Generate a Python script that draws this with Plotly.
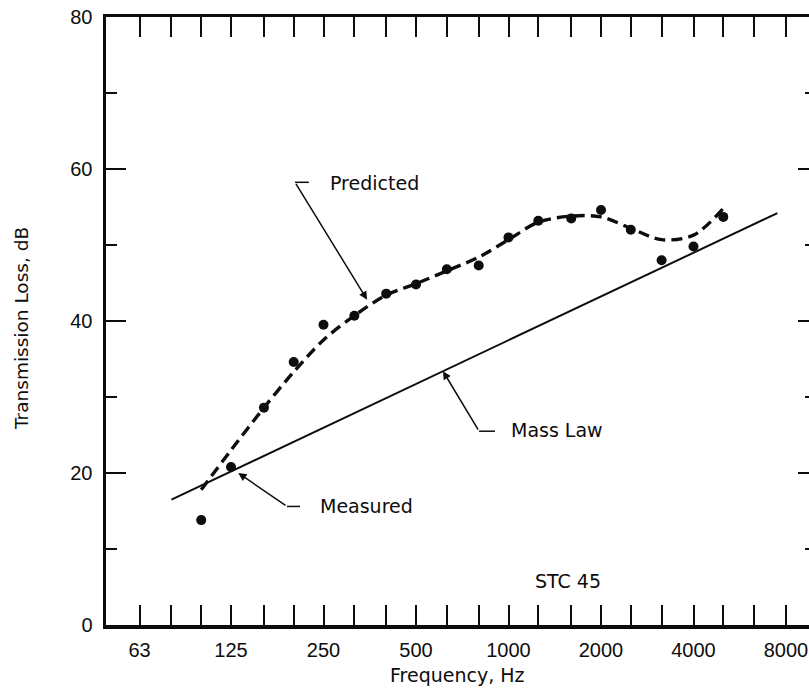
import numpy as np
import plotly.graph_objects as go

# ---- data ----
meas_freq = [100, 125, 160, 200, 250, 315, 400, 500, 630, 800, 1000, 1250, 1600, 2000, 2500, 3150, 4000, 5000]
meas_tl = [13.8, 20.8, 28.6, 34.6, 39.5, 40.7, 43.6, 44.8, 46.8, 47.3, 51.0, 53.2, 53.5, 54.6, 52.0, 48.0, 49.8, 53.7]

pred_freq = [100, 125, 160, 200, 250, 315, 400, 500, 630, 800, 1000, 1250, 1600, 2000, 2500, 3150, 4000, 5000]
pred_tl = [17.8, 23.0, 28.6, 33.3, 37.5, 40.7, 43.4, 44.9, 46.6, 48.4, 50.7, 53.0, 53.8, 53.7, 52.2, 50.7, 51.3, 54.8]

mass_freq = [80, 7500]
mass_tl = [16.5, 54.2]

x_tickvals = [63, 125, 250, 500, 1000, 2000, 4000, 8000]
x_ticktext = ["63", "125", "250", "500", "1000", "2000", "4000", "8000"]
x_minor = [80, 100, 160, 200, 315, 400, 630, 800, 1250, 1600, 2500, 3150, 5000, 6300]
y_tickvals = [0, 20, 40, 60, 80]
y_minor = [10, 30, 50, 70]

FONT = "DejaVu Sans"
TICKFONT = "Liberation Sans"
INK = "#0d0d0d"

W, H = 809, 691
L, R, T, B = 106, 0, 17, 66
PW, PH = W - L - R, H - T - B

fig = go.Figure()

fig.add_trace(go.Scatter(x=mass_freq, y=mass_tl, mode="lines",
                         line=dict(color=INK, width=2), yaxis="y2", hoverinfo="skip"))
fig.add_trace(go.Scatter(x=pred_freq, y=pred_tl, mode="lines",
                         line=dict(color=INK, width=3.4, dash="11px,6px", shape="spline", smoothing=0.9),
                         hoverinfo="skip"))
fig.add_trace(go.Scatter(x=meas_freq, y=meas_tl, mode="markers",
                         marker=dict(color=INK, size=10), hoverinfo="skip"))

# leader lines: horizontal segment (text side -> bend), then arrow bend -> tip
leaders = [
    dict(label="Predicted", text_at=(258.6, 58.2), seg=([224, 202], [58.25, 58.25]), tip=(346.6, 42.8)),
    dict(label="Measured", text_at=(240.5, 15.6), seg=([209.6, 190.2], [15.6, 15.6]), tip=(132, 20.0)),
    dict(label="Mass Law", text_at=(1000, 25.6), seg=([904, 802], [25.5, 25.5]), tip=(612, 33.4)),
]
annotations = []
for ld in leaders:
    fx, fy = ld["seg"]
    fig.add_trace(go.Scatter(x=fx, y=fy, mode="lines", line=dict(color=INK, width=1.5), hoverinfo="skip"))
    annotations.append(dict(x=np.log10(ld["tip"][0]), y=ld["tip"][1], xref="x", yref="y",
                            ax=np.log10(fx[1]), ay=fy[1], axref="x", ayref="y",
                            text="", showarrow=True, arrowhead=2, arrowsize=1.1,
                            arrowwidth=1.5, arrowcolor=INK, standoff=0))
    annotations.append(dict(x=np.log10(ld["text_at"][0]), y=ld["text_at"][1], xref="x", yref="y",
                            text=ld["label"], showarrow=False, xanchor="left", yanchor="middle",
                            font=dict(family=FONT, size=19, color=INK)))

annotations.append(dict(x=np.log10(1562), y=5.8, xref="x", yref="y", text="STC 45",
                        showarrow=False, xanchor="center", yanchor="middle",
                        font=dict(family=FONT, size=19, color=INK)))

# axis titles placed as paper annotations
annotations.append(dict(x=(457 - L) / PW, y=(T + PH - 675) / PH, xref="paper", yref="paper",
                        text="Frequency, Hz", showarrow=False, xanchor="center", yanchor="middle",
                        font=dict(family=FONT, size=19, color=INK)))
annotations.append(dict(x=(22 - L) / PW, y=(T + PH - 329) / PH, xref="paper", yref="paper",
                        text="Transmission Loss, dB", showarrow=False, textangle=-90,
                        xanchor="center", yanchor="middle",
                        font=dict(family=FONT, size=18.5, color=INK)))

x_lo = np.log10(125 * 2 ** (-125 / 92.5))
x_hi = np.log10(125 * 2 ** (578 / 92.5))

fig.update_layout(
    width=W, height=H,
    margin=dict(l=L, r=R, t=T, b=B, autoexpand=False),
    paper_bgcolor="white", plot_bgcolor="white",
    showlegend=False,
    font=dict(family=FONT, color=INK),
    annotations=annotations,
    xaxis=dict(type="log", range=[x_lo, x_hi], showgrid=False, zeroline=False, automargin=False,
               showline=True, linecolor=INK, linewidth=3.5, mirror="allticks",
               ticks="inside", ticklen=20, tickwidth=2, tickcolor=INK,
               tickmode="array", tickvals=x_tickvals, ticktext=x_ticktext,
               tickfont=dict(family=TICKFONT, size=20, color=INK), ticklabeloverflow="allow",
               ticklabelstandoff=4,
               minor=dict(tickmode="array", tickvals=x_minor, ticks="inside", ticklen=11,
                          tickwidth=2, tickcolor=INK, showgrid=False)),
    yaxis=dict(range=[0, 80], showgrid=False, zeroline=False, automargin=False,
               showline=True, linecolor=INK, linewidth=3.5, mirror=False,
               ticks="inside", ticklen=20, tickwidth=2, tickcolor=INK,
               tickmode="array", tickvals=y_tickvals,
               tickfont=dict(family=TICKFONT, size=20, color=INK), ticklabelstandoff=6,
               ticklabeloverflow="allow",
               minor=dict(tickmode="array", tickvals=y_minor, ticks="inside", ticklen=11,
                          tickwidth=2, tickcolor=INK, showgrid=False)),
    yaxis2=dict(range=[0, 80], overlaying="y", side="right", showgrid=False, zeroline=False,
                showline=False, showticklabels=False, automargin=False,
                ticks="inside", ticklen=11, tickwidth=2, tickcolor=INK,
                tickmode="array", tickvals=[20, 40, 60],
                minor=dict(tickmode="array", tickvals=y_minor, ticks="inside", ticklen=4,
                           tickwidth=2, tickcolor=INK, showgrid=False)),
)

fig.write_html("out.html", config={"displayModeBar": False, "staticPlot": True},
               post_script="document.body.style.margin='0';document.body.style.padding='0';"
                           "document.body.style.overflow='hidden';")
